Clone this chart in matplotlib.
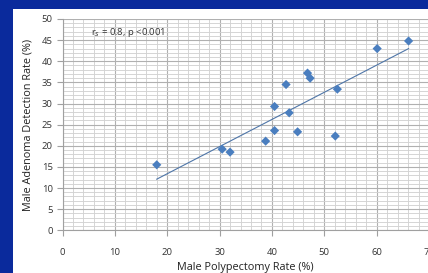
import numpy as np
import matplotlib
matplotlib.use("Agg")
import matplotlib.pyplot as plt
from matplotlib.patches import Rectangle
from matplotlib.ticker import MultipleLocator

# male polypectomy rate vs male adenoma detection rate
polyp_rate = [18.0, 30.5, 32.0, 38.8, 40.5, 40.5, 42.7, 43.3, 44.9,
              46.8, 47.3, 52.1, 52.5, 60.1, 66.1]
adenoma_rate = [15.5, 19.2, 18.5, 21.1, 23.6, 29.3, 34.5, 27.8, 23.3,
                37.2, 36.0, 22.3, 33.4, 43.0, 44.8]

plt.rcParams["font.family"] = ["Open Sans", "DejaVu Sans"]

fig = plt.figure(figsize=(4.28, 2.73), dpi=100)
fig.patch.set_facecolor("#0a2a9c")
# white panel sitting on the blue slide background
fig.patches.append(Rectangle((13 / 428, 0), 1, 1 - 9 / 273, transform=fig.transFigure,
                             facecolor="white", edgecolor="none", zorder=-5))

ax = fig.add_axes([62.5 / 428, 42.7 / 273, 366.5 / 428, 211.3 / 273])
ax.set_zorder(2)
ax.set_facecolor("white")

ax.set_xlim(0, 70)
ax.set_ylim(0, 50)
ax.xaxis.set_major_locator(MultipleLocator(10))
ax.xaxis.set_minor_locator(MultipleLocator(2))
ax.yaxis.set_major_locator(MultipleLocator(5))
ax.yaxis.set_minor_locator(MultipleLocator(1))

ax.grid(True, which="major", color="#b0b0b0", linewidth=0.8)
ax.grid(True, which="minor", color="#d2d2d2", linewidth=0.65)
ax.set_axisbelow(True)

for side in ["top", "right"]:
    ax.spines[side].set_visible(False)
for side in ["left", "bottom"]:
    ax.spines[side].set_color("#a0a0a0")
    ax.spines[side].set_linewidth(0.8)

ax.tick_params(which="major", length=4, width=0.8, color="#a0a0a0",
               labelsize=6.8, labelcolor="#333333")
ax.tick_params(axis="x", pad=9)
ax.tick_params(axis="y", pad=3)
ax.tick_params(which="minor", length=0)

ax.scatter(polyp_rate, adenoma_rate, marker="D", s=22, color="#4a7ebf",
           edgecolors="none", zorder=3)

# least squares trend line over the data range
slope, intercept = np.polyfit(polyp_rate, adenoma_rate, 1)
xs = np.array([min(polyp_rate), max(polyp_rate)])
ax.plot(xs, slope * xs + intercept, color="#4f76a8", linewidth=0.8, zorder=2)

ax.text(5.5, 46.8, r"r$_s$ = 0.8, p <0.001", fontsize=6.8, color="#333333",
        va="center", ha="left")

ax.set_xlabel("Male Polypectomy Rate (%)", fontsize=7.8, color="#222222", labelpad=3)
ax.set_ylabel("Male Adenoma Detection Rate (%)", fontsize=7.8, color="#222222", labelpad=6)

fig.savefig("out.png", dpi=100, facecolor=fig.get_facecolor())
